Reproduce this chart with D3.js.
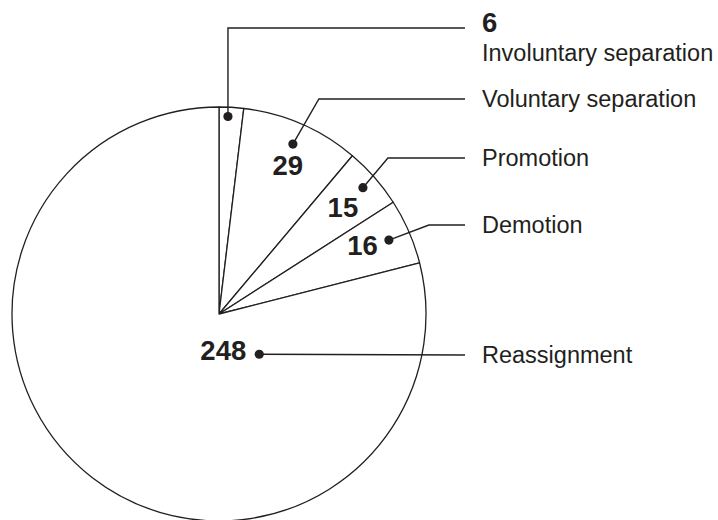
<!DOCTYPE html>
<html>
<head>
<meta charset="utf-8">
<script src="https://cdn.jsdelivr.net/npm/d3@7"></script>
<style>
  body { margin: 0; background: #fff; }
  text { font-family: "Liberation Sans", Arial, Helvetica, sans-serif; fill: #231f20; }
</style>
</head>
<body>
<div id="chart"></div>
<script>
// data
const categories = ["Involuntary separation", "Voluntary separation", "Promotion", "Demotion", "Reassignment"];
const counts = [6, 29, 15, 16, 248];

const width = 718;
const height = 520;
const cx = 219, cy = 314, radius = 207;
const ink = "#231f20";

// hand placed callouts: dot radius fraction, number offset, label row
const callouts = [
  { rFrac: 0.955, angle: 2.6, numDx: 0, numDy: 0, anchor: "start", rowY: 28, elbowDx: 0 },
  { rFrac: 0.895, numDx: -5, numDy: 31, anchor: "middle", rowY: 99, elbowDx: 26 },
  { rFrac: 0.925, numDx: -20, numDy: 29, anchor: "middle", rowY: 158, elbowDx: 25 },
  { rFrac: 0.895, numDx: -11, numDy: 15, anchor: "end", rowY: 225, elbowDx: 40 },
  { rFrac: 0.275, angle: 135, numDx: -13, numDy: 6, anchor: "end", rowY: 355, elbowDx: 0 }
];
const lineEndX = 465;
const labelX = 482;

const svg = d3.select("#chart")
  .append("svg")
  .attr("width", width)
  .attr("height", height);

const g = svg.append("g").attr("transform", `translate(${cx},${cy})`);

const pie = d3.pie().sort(null).value(d => d)(counts);
const arc = d3.arc().innerRadius(0).outerRadius(radius);

g.selectAll("path")
  .data(pie)
  .enter()
  .append("path")
  .attr("d", arc)
  .attr("fill", "#fff")
  .attr("stroke", ink)
  .attr("stroke-width", 1.3)
  .attr("stroke-linejoin", "round");

// dot positions
const dots = pie.map((d, i) => {
  const c = callouts[i];
  if (c.angle !== undefined) {
    const a = c.angle * Math.PI / 180;
    const r = radius * c.rFrac;
    return [cx + r * Math.sin(a), cy - r * Math.cos(a)];
  }
  const p = d3.arc().innerRadius(radius * c.rFrac).outerRadius(radius * c.rFrac).centroid(d);
  return [cx + p[0], cy + p[1]];
});

// leader lines
dots.forEach((p, i) => {
  const c = callouts[i];
  let pts;
  if (i === 0) {
    pts = [p, [p[0], c.rowY], [lineEndX, c.rowY]];
  } else if (c.elbowDx) {
    pts = [p, [p[0] + c.elbowDx, c.rowY], [lineEndX, c.rowY]];
  } else {
    pts = [p, [lineEndX, c.rowY]];
  }
  svg.append("path")
    .attr("d", d3.line()(pts))
    .attr("fill", "none")
    .attr("stroke", ink)
    .attr("stroke-width", 1.4);
});

svg.selectAll("circle.dot")
  .data(dots)
  .enter()
  .append("circle")
  .attr("class", "dot")
  .attr("cx", d => d[0])
  .attr("cy", d => d[1])
  .attr("r", 4.6)
  .attr("fill", ink);

// number labels
counts.forEach((v, i) => {
  const c = callouts[i];
  const t = svg.append("text")
    .attr("font-weight", "bold")
    .attr("font-size", 27.5)
    .text(v);
  if (i === 0) {
    t.attr("x", labelX).attr("y", 32);
  } else {
    t.attr("x", dots[i][0] + c.numDx)
      .attr("y", dots[i][1] + c.numDy)
      .attr("text-anchor", c.anchor);
  }
});

// category labels
categories.forEach((name, i) => {
  const c = callouts[i];
  svg.append("text")
    .attr("x", labelX)
    .attr("y", i === 0 ? 61 : c.rowY + 8)
    .attr("font-size", 23.5)
    .text(name);
});
</script>
</body>
</html>
